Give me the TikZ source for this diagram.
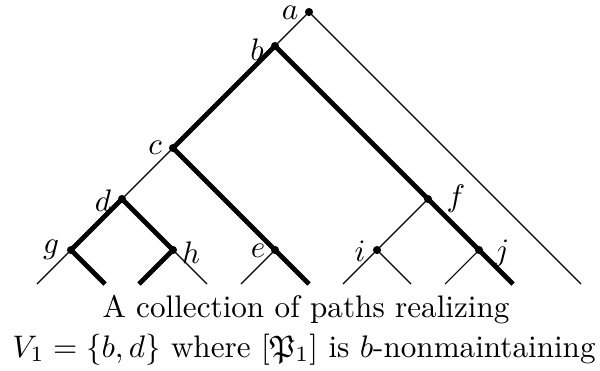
\documentclass[tikz,border=0pt]{standalone}
\usepackage{amssymb}
\begin{document}
\begin{tikzpicture}[x=0.321pt,y=-0.321pt,
  thinline/.style={line width=0.35pt},
  boldline/.style={line width=1.5pt},
  vtx/.style={circle,fill,inner sep=0pt,minimum size=2.6pt},
  lab/.style={inner sep=0pt}]
\useasboundingbox (0,0) rectangle (600,370);
% vertices
\node[vtx] (a) at (309,12) {};
\node[vtx] (b) at (275,46) {};
\node[vtx] (c) at (173,148) {};
\node[vtx] (d) at (122,199) {};
\node[vtx] (g) at (71,250) {};
\node[vtx] (h) at (173,250) {};
\node[vtx] (e) at (275,250) {};
\node[vtx] (f) at (428,199) {};
\node[vtx] (i) at (377,250) {};
\node[vtx] (j) at (479,250) {};
% leaves
\coordinate (gl) at (37,284);  \coordinate (gr) at (105,284);
\coordinate (hl) at (139,284); \coordinate (hr) at (207,284);
\coordinate (el) at (241,284); \coordinate (er) at (309,284);
\coordinate (il) at (343,284); \coordinate (ir) at (411,284);
\coordinate (jl) at (445,284); \coordinate (jr) at (513,284);
\coordinate (ar) at (581,284);
% thin edges
\draw[thinline] (a.center) -- (b.center);
\draw[thinline] (a.center) -- (ar);
\draw[thinline] (c.center) -- (d.center);
\draw[thinline] (g.center) -- (gl);
\draw[thinline] (h.center) -- (hr);
\draw[thinline] (e.center) -- (el);
\draw[thinline] (f.center) -- (i.center);
\draw[thinline] (i.center) -- (il);
\draw[thinline] (i.center) -- (ir);
\draw[thinline] (j.center) -- (jl);
% bold edges
\draw[boldline] (b.center) -- (c.center);
\draw[boldline] (b.center) -- (f.center);
\draw[boldline] (f.center) -- (j.center);
\draw[boldline] (j.center) -- (jr);
\draw[boldline] (c.center) -- (e.center);
\draw[boldline] (e.center) -- (er);
\draw[boldline] (d.center) -- (g.center);
\draw[boldline] (d.center) -- (h.center);
\draw[boldline] (g.center) -- (gr);
\draw[boldline] (h.center) -- (hl);
% labels
\node[lab] (la) at (290,13) {$a$};
\node[lab] (lb) at (257,50) {$b$};
\node[lab] (lc) at (155,148) {$c$};
\node[lab] (ld) at (103,201) {$d$};
\node[lab] (lg) at (51,250) {$g$};
\node[lab] (lh) at (191,253) {$h$};
\node[lab] (le) at (258,251) {$e$};
\node[lab] (li) at (360,251) {$i$};
\node[lab] (lf) at (456,199) {$f$};
\node[lab] (lj) at (502,253) {$j$};
% caption
\node[anchor=base,inner sep=0pt] (cap1) at (306,317) {A collection of paths realizing};
\node[anchor=base,inner sep=0pt] (cap2) at (304,357) {$V_1=\{b,d\}$ where $[\mathfrak{P}_1]$ is $b$-nonmaintaining};
\end{tikzpicture}
\end{document}
